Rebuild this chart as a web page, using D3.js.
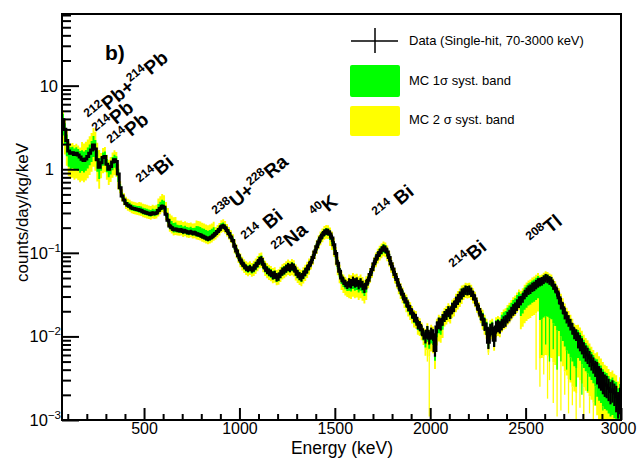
<!DOCTYPE html>
<html>
<head>
<meta charset="utf-8">
<script src="https://cdn.jsdelivr.net/npm/d3@7"></script>
<style>
body { margin: 0; background: #fff; }
svg { font-family: "Liberation Sans", Arial, Helvetica, sans-serif; }
</style>
</head>
<body>
<svg width="638" height="458"></svg>
<script>
// histogram binning in keV
var binLo = 70, binHi = 3000, binW = 10

// data, counts/day/kg/keV per 10 keV bin (one row = 100 keV, row starts at 70, 170, ...)
var counts = [
  3.9, 3.0, 2.2, 1.65, 1.55, 1.58, 1.50, 1.55, 1.48, 1.40,
  1.32, 1.27, 1.33, 1.42, 1.55, 1.70, 1.95, 1.75, 1.30, 1.06,
  1.20, 1.38, 1.42, 1.15, 1.00, 1.08, 1.22, 1.30, 1.24, 0.88,
  0.60, 0.48, 0.43, 0.39, 0.37, 0.36, 0.345, 0.34, 0.335, 0.33,
  0.325, 0.32, 0.31, 0.305, 0.30, 0.295, 0.29, 0.30, 0.295, 0.30,
  0.32, 0.34, 0.36, 0.35, 0.29, 0.245, 0.21, 0.20, 0.19, 0.192,
  0.188, 0.186, 0.187, 0.18, 0.183, 0.177, 0.175, 0.178, 0.172, 0.174,
  0.168, 0.166, 0.163, 0.158, 0.155, 0.15, 0.147, 0.15, 0.155, 0.162,
  0.17, 0.18, 0.19, 0.205, 0.21, 0.20, 0.185, 0.17, 0.155, 0.14,
  0.12, 0.105, 0.092, 0.082, 0.075, 0.07, 0.066, 0.064, 0.066, 0.063,
  0.066, 0.07, 0.075, 0.081, 0.083, 0.073, 0.066, 0.062, 0.059, 0.057,
  0.054, 0.055, 0.051, 0.052, 0.056, 0.06, 0.062, 0.065, 0.068, 0.066,
  0.069, 0.067, 0.06, 0.056, 0.053, 0.051, 0.055, 0.059, 0.064, 0.07,
  0.077, 0.088, 0.102, 0.118, 0.135, 0.15, 0.163, 0.175, 0.18, 0.178,
  0.168, 0.15, 0.125, 0.098, 0.075, 0.06, 0.05, 0.046, 0.043, 0.041,
  0.044, 0.043, 0.046, 0.044, 0.045, 0.042, 0.044, 0.041, 0.038, 0.042,
  0.047, 0.055, 0.063, 0.074, 0.084, 0.093, 0.101, 0.108, 0.114, 0.111,
  0.102, 0.088, 0.074, 0.064, 0.055, 0.048, 0.041, 0.036, 0.032, 0.028,
  0.026, 0.023, 0.021, 0.019, 0.017, 0.0165, 0.014, 0.0135, 0.012, 0.0105,
  0.0098, 0.0115, 0.0095, 0.011, 0.0105, 0.0068, 0.013, 0.0145, 0.014, 0.016,
  0.0175, 0.0185, 0.02, 0.019, 0.022, 0.023, 0.026, 0.028, 0.030, 0.0325,
  0.034, 0.036, 0.0355, 0.036, 0.034, 0.031, 0.028, 0.024, 0.021, 0.018,
  0.016, 0.014, 0.0125, 0.0085, 0.012, 0.0125, 0.009, 0.013, 0.0135, 0.013,
  0.014, 0.015, 0.0155, 0.017, 0.018, 0.0195, 0.021, 0.022, 0.024, 0.026,
  0.027, 0.029, 0.032, 0.034, 0.036, 0.037, 0.039, 0.040, 0.042, 0.044,
  0.045, 0.046, 0.048, 0.050, 0.049, 0.047, 0.046, 0.041, 0.038, 0.034,
  0.029, 0.025, 0.022, 0.019, 0.017, 0.0155, 0.014, 0.0125, 0.011, 0.0105,
  0.0092, 0.0085, 0.0078, 0.0070, 0.0064, 0.006, 0.0055, 0.005, 0.0046, 0.0042,
  0.0038, 0.0034, 0.0032, 0.0029, 0.0027, 0.0026, 0.0024, 0.0022, 0.0023, 0.0021,
  0.0019, 0.0016, 0.0018
]

// relative stat. error of data, per 100 keV row
var errFrac = [0.03, 0.03, 0.03, 0.04, 0.05, 0.05, 0.06, 0.06, 0.06, 0.08,
  0.1, 0.11, 0.11, 0.09, 0.1, 0.13, 0.1, 0.11, 0.13, 0.16,
  0.15, 0.13, 0.17, 0.16, 0.13, 0.12, 0.16, 0.22, 0.3, 0.35]

// MC syst. bands relative to data, per 100 keV row
var sig1Lo = [0.65, 0.72, 0.8, 0.93, 0.93, 0.92, 0.93, 0.93, 0.93, 0.9,
  0.88, 0.88, 0.88, 0.9, 0.85, 0.8, 0.88, 0.88, 0.85, 0.75,
  0.85, 0.88, 0.85, 0.9, 0.65, 0.35, 0.4, 0.6, 0.5, 0.4]
var sig1Hi = [1.18, 1.28, 1.15, 1.1, 1.12, 1.2, 1.15, 1.25, 1.1, 1.1,
  1.12, 1.12, 1.12, 1.1, 1.1, 1.12, 1.12, 1.1, 1.12, 1.15,
  1.15, 1.12, 1.2, 1.3, 1.2, 1.12, 1.15, 1.3, 1.4, 1.5]
var sig2Lo = [0.5, 0.55, 0.65, 0.86, 0.86, 0.85, 0.86, 0.86, 0.85, 0.82,
  0.8, 0.8, 0.78, 0.82, 0.72, 0.65, 0.8, 0.78, 0.75, 0.6,
  0.75, 0.8, 0.75, 0.8, 0.45, 0.12, 0.2, 0.35, 0.3, 0.3]
var sig2Hi = [1.3, 1.6, 1.3, 1.2, 1.25, 1.4, 1.3, 1.45, 1.2, 1.2,
  1.22, 1.22, 1.22, 1.2, 1.2, 1.25, 1.2, 1.2, 1.22, 1.25,
  1.25, 1.22, 1.3, 1.4, 1.3, 1.2, 1.3, 1.5, 1.7, 1.8]

// single MC bins that drop far below the band [keV, value]
var sig1Dips = [[2585, 0.006], [2605, 0.008], [2625, 0.005], [2645, 0.007], [2665, 0.004],
  [2685, 0.005], [2715, 0.004], [2735, 0.003], [2765, 0.0025], [2795, 0.002],
  [2825, 0.0022], [2865, 0.0015], [2905, 0.0013], [2945, 0.0011]]
var sig2Dips = [[1985, 0.005], [1995, 0.0011], [2305, 0.006], [2555, 0.004], [2575, 0.0025],
  [2595, 0.0035], [2615, 0.0018], [2625, 0.003], [2645, 0.0016], [2665, 0.0011],
  [2685, 0.0013], [2705, 0.002], [2725, 0.0012], [2745, 0.0015], [2765, 0.001],
  [2785, 0.0014], [2805, 0.001], [2835, 0.0012], [2855, 0.001], [2885, 0.0011],
  [2915, 0.001], [2945, 0.001], [2975, 0.001]]

// axes
var xMajor = [500, 1000, 1500, 2000, 2500, 3000]
var xMinor = [100, 200, 300, 400, 600, 700, 800, 900, 1100, 1200, 1300, 1400, 1600, 1700,
  1800, 1900, 2100, 2200, 2300, 2400, 2600, 2700, 2800, 2900]
var yMajor = [1e-3, 1e-2, 1e-1, 1, 10]
var yBase = ['10', '10', '10', '1', '10']
var yExp = ['\u22123', '\u22122', '\u22121', '', '']

// peak labels: [text, superscript?]
var peakLabels = [
  [['212', 1], ['Pb+', 0], ['214', 1], ['Pb', 0]],
  [['214', 1], ['Pb', 0]],
  [['214', 1], ['Pb', 0]],
  [['214', 1], ['Bi', 0]],
  [['238', 1], ['U+', 0], ['228', 1], ['Ra', 0]],
  [['214', 1], [' Bi', 0]],
  [['22', 1], ['Na', 0]],
  [['40', 1], ['K', 0]],
  [['214', 1], [' Bi', 0]],
  [['214', 1], ['Bi', 0]],
  [['208', 1], ['Tl', 0]]
]

var legendItems = ['Data (Single-hit, 70-3000 keV)', 'MC 1\u03c3 syst. band', 'MC 2 \u03c3 syst. band']

var svg = d3.select('svg')
var margin = {left: 62, top: 14, right: 17, bottom: 38}
var W = 638, H = 458

var x = d3.scaleLinear().domain([binLo, binHi]).range([margin.left, W - margin.right])
var y = d3.scaleLog().domain([1e-3, 72]).range([H - margin.bottom, margin.top]).clamp(true)

svg.append('clipPath').attr('id', 'plot')
  .append('rect')
  .attr('x', margin.left).attr('y', margin.top)
  .attr('width', W - margin.left - margin.right)
  .attr('height', H - margin.top - margin.bottom)

// bins with edges
var bins = counts.map(function(v, i) {
  var r = Math.floor(i / 10)
  return {lo: binLo + i * binW, c: binLo + i * binW + binW / 2, v: v, r: r}
})
var edges = bins.concat([{lo: binHi, v: counts[counts.length - 1], r: errFrac.length - 1}])

var plot = svg.append('g').attr('clip-path', 'url(#plot)')

function band(loF, hiF) {
  return d3.area()
    .curve(d3.curveStepAfter)
    .x(function(d) { return x(d.lo) })
    .y0(function(d) { return y(d.v * loF[d.r]) })
    .y1(function(d) { return y(d.v * hiF[d.r]) })
}

function dips(list, loF, color) {
  plot.append('g').selectAll('line')
    .data(list)
    .enter().append('line')
    .attr('x1', function(d) { return x(d[0]) })
    .attr('x2', function(d) { return x(d[0]) })
    .attr('y1', function(d) {
      var i = Math.floor((d[0] - binLo) / binW)
      return y(counts[i] * loF[bins[i].r])
    })
    .attr('y2', function(d) { return y(d[1]) })
    .attr('stroke', color)
    .attr('stroke-width', 1.3)
}

// 2 sigma (yellow) then 1 sigma (green)
plot.append('path').datum(edges).attr('d', band(sig2Lo, sig2Hi)).attr('fill', '#ffff00')
dips(sig2Dips, sig2Lo, '#ffff00')
plot.append('path').datum(edges).attr('d', band(sig1Lo, sig1Hi)).attr('fill', '#00ff00')
dips(sig1Dips, sig1Lo, '#00ff00')

// data error bars
plot.append('g').selectAll('line')
  .data(bins)
  .enter().append('line')
  .attr('x1', function(d) { return x(d.c) })
  .attr('x2', function(d) { return x(d.c) })
  .attr('y1', function(d) { return y(d.v * (1 - errFrac[d.r])) })
  .attr('y2', function(d) { return y(d.v * (1 + errFrac[d.r])) })
  .attr('stroke', '#000')
  .attr('stroke-width', 2.2)

// data histogram
plot.append('path').datum(edges)
  .attr('d', d3.line().curve(d3.curveStepAfter)
    .x(function(d) { return x(d.lo) })
    .y(function(d) { return y(d.v) }))
  .attr('fill', 'none')
  .attr('stroke', '#000')
  .attr('stroke-width', 3)

// frame
svg.append('rect')
  .attr('x', margin.left).attr('y', margin.top)
  .attr('width', W - margin.left - margin.right)
  .attr('height', H - margin.top - margin.bottom)
  .attr('fill', 'none').attr('stroke', '#000').attr('stroke-width', 2)

// x axis, ticks inside
var xAxisG = svg.append('g').attr('transform', 'translate(0,' + (H - margin.bottom) + ')')
xAxisG.call(d3.axisBottom(x).tickValues(xMajor).tickSize(-12).tickPadding(3).tickFormat(d3.format('d')))
xAxisG.append('g').call(d3.axisBottom(x).tickValues(xMinor).tickSize(-6).tickFormat(''))
xAxisG.selectAll('.domain').remove()
xAxisG.selectAll('line').attr('stroke-width', 2)
xAxisG.selectAll('text').attr('font-size', 16).attr('fill', '#000')
  .attr('font-family', '"Liberation Sans", Arial, sans-serif')
  .attr('dx', function(d) { return d === 3000 ? -3 : 0 })

// y axis, ticks inside
var yMinor = []
yMajor.forEach(function(m) {
  for (var k = 2; k <= 9; k++) if (m * k <= 72) yMinor.push(m * k)
})
var yAxisG = svg.append('g').attr('transform', 'translate(' + margin.left + ',0)')
yAxisG.call(d3.axisLeft(y).tickValues(yMajor).tickSize(-17).tickFormat(''))
yAxisG.append('g').call(d3.axisLeft(y).tickValues(yMinor).tickSize(-9).tickFormat(''))
yAxisG.selectAll('.domain').remove()
yAxisG.selectAll('line').attr('stroke-width', 2)

var yl = svg.append('g').attr('font-size', 16.5).attr('text-anchor', 'end')
yMajor.forEach(function(v, i) {
  var t = yl.append('text')
    .attr('x', yExp[i] ? 61 : (yBase[i] === '1' ? 54 : 58))
    .attr('y', y(v) + 6)
    .text(yBase[i])
  if (yExp[i]) t.append('tspan').attr('dy', -7).attr('font-size', 11.5).text(yExp[i])
})

// axis titles
svg.append('text')
  .attr('x', 393).attr('y', 454)
  .attr('text-anchor', 'end').attr('font-size', 17.5)
  .text('Energy (keV)')
svg.append('text')
  .attr('transform', 'translate(28,143) rotate(-90)')
  .attr('text-anchor', 'end').attr('font-size', 17)
  .text('counts/day/kg/keV')

// panel tag
svg.append('text')
  .attr('x', 105).attr('y', 60)
  .attr('font-size', 21).attr('font-weight', 'bold')
  .text('b)')

// peak labels
var labelAt = [[93, 124], [101, 138], [116, 150], [145, 189], [221, 221], [250, 246],
  [280, 256], [318, 221], [381, 222], [458, 274], [535, 247]]
peakLabels.forEach(function(parts, i) {
  var t = svg.append('text')
    .attr('transform', 'translate(' + labelAt[i][0] + ',' + labelAt[i][1] + ') rotate(-40)')
    .attr('font-weight', 'bold')
    .style('white-space', 'pre')
  parts.forEach(function(p, j) {
    var prevSup = j > 0 && parts[j - 1][1]
    t.append('tspan')
      .attr('font-size', p[1] ? 12 : 19)
      .attr('dy', p[1] ? -8 : (prevSup ? 8 : 0))
      .text(p[0])
  })
})

// legend
var lg = svg.append('g').attr('font-size', 13)
lg.append('line').attr('x1', 351).attr('x2', 398).attr('y1', 41).attr('y2', 41)
  .attr('stroke', '#000').attr('stroke-width', 1.5)
lg.append('line').attr('x1', 375).attr('x2', 375).attr('y1', 28).attr('y2', 53)
  .attr('stroke', '#000').attr('stroke-width', 1.5)
lg.append('rect').attr('x', 350).attr('y', 65).attr('width', 50).attr('height', 32)
  .attr('rx', 2).attr('fill', '#00ff00')
lg.append('rect').attr('x', 350).attr('y', 106).attr('width', 50).attr('height', 30)
  .attr('rx', 2).attr('fill', '#ffff00')
lg.selectAll('text.item')
  .data(legendItems)
  .enter().append('text')
  .attr('class', 'item')
  .attr('x', 409)
  .attr('y', function(d, i) { return [45, 85, 124][i] })
  .text(function(d) { return d })
</script>
</body>
</html>
